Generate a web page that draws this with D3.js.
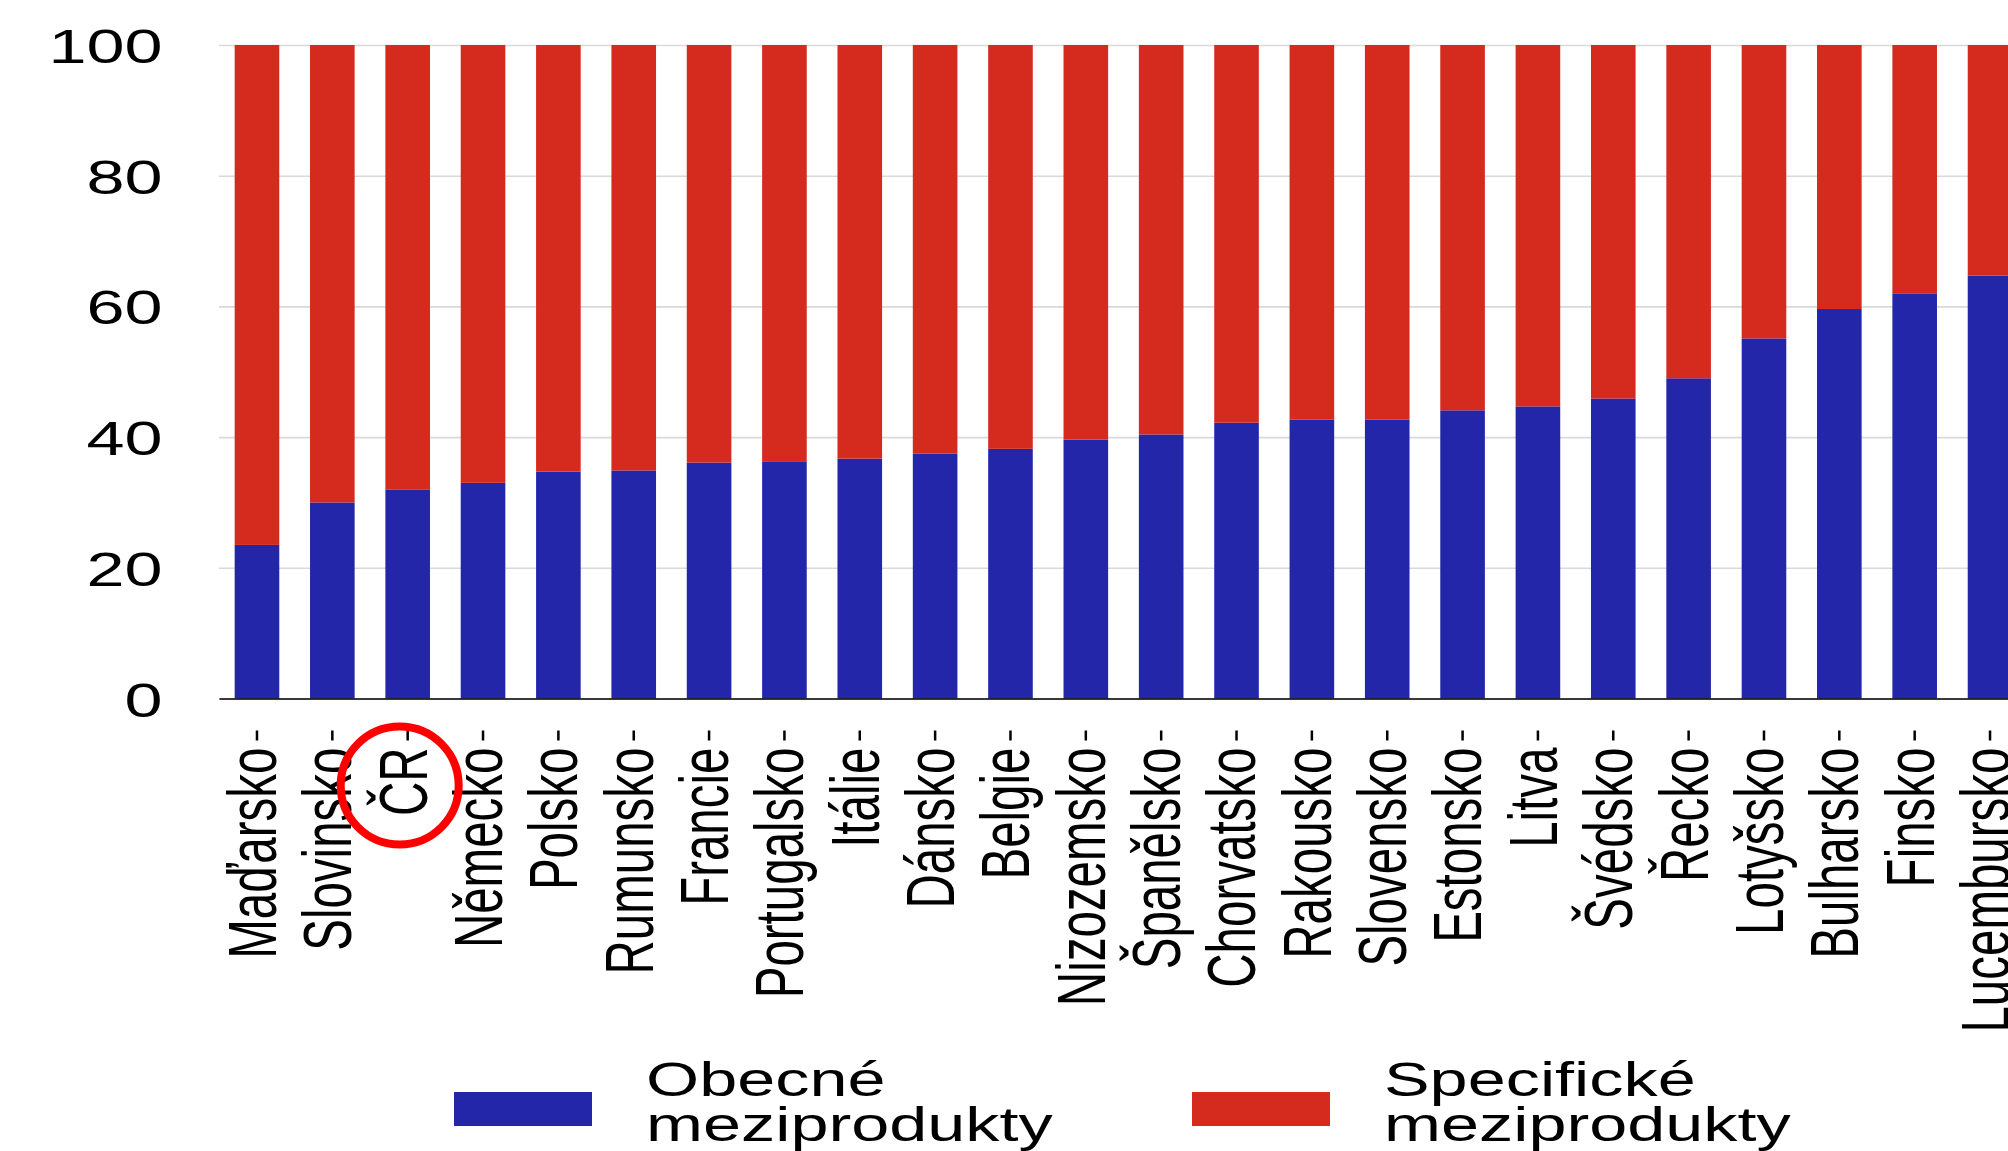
<!DOCTYPE html>
<html lang="cs">
<head>
<meta charset="utf-8">
<script src="https://cdn.jsdelivr.net/npm/d3@7"></script>
<style>
  html, body { margin: 0; padding: 0; background: #fff; overflow: hidden; }
  svg { display: block; font-family: "Liberation Sans", Arial, sans-serif; }
</style>
</head>
<body>
<svg id="chart" width="2008" height="1151"></svg>
<script>
// Countries ordered by the share of general intermediate products
const countries = ["Maďarsko", "Slovinsko", "ČR", "Německo", "Polsko", "Rumunsko", "Francie",
  "Portugalsko", "Itálie", "Dánsko", "Belgie", "Nizozemsko", "Španělsko", "Chorvatsko",
  "Rakousko", "Slovensko", "Estonsko", "Litva", "Švédsko", "Řecko", "Lotyšsko",
  "Bulharsko", "Finsko", "Lucembursko"];

// Share of general intermediate products (%)
const obecne = [23.5, 30.0, 32.0, 33.0, 34.7, 34.9, 36.1, 36.3, 36.7, 37.5, 38.2, 39.6,
  40.4, 42.2, 42.7, 42.7, 44.1, 44.7, 45.9, 49.0, 55.1, 59.6, 62.0, 64.7];

// Share of specific intermediate products (%)
const specificke = [76.5, 70.0, 68.0, 67.0, 65.3, 65.1, 63.9, 63.7, 63.3, 62.5, 61.8, 60.4,
  59.6, 57.8, 57.3, 57.3, 55.9, 55.3, 54.1, 51.0, 44.9, 40.4, 38.0, 35.3];

const seriesKeys = ["obecne", "specificke"];
const seriesNames = ["Obecné meziprodukty", "Specifické meziprodukty"];
const seriesColors = ["#2326a8", "#d52b1f"];

const yTicks = [0, 20, 40, 60, 80, 100];
const highlighted = "ČR";

// Layout
const FONT = 47.5;   // px
const SX = 1.44;     // horizontal stretch of all lettering
const plotLeft = 219, plotRight = 2028, plotTop = 45, plotBottom = 698.5;

const svg = d3.select("#chart");

const x = d3.scaleBand()
  .domain(countries)
  .range([plotLeft, plotRight])
  .paddingInner(0.408)
  .paddingOuter(0.208);

const y = d3.scaleLinear().domain([0, 100]).range([plotBottom, plotTop]);

// Horizontal gridlines
const grid = svg.append("g")
  .attr("transform", `translate(${plotLeft},0)`)
  .call(d3.axisLeft(y).tickValues(yTicks).tickSize(-(plotRight - plotLeft)).tickFormat(""));
grid.select(".domain").remove();
grid.selectAll(".tick line").attr("stroke", "#d9d9d9").attr("stroke-width", 1.6);

// Stacked bars
const rows = countries.map((c, i) => ({ country: c, obecne: obecne[i], specificke: specificke[i] }));
const stacked = d3.stack().keys(seriesKeys)(rows);

svg.append("g").selectAll("g")
  .data(stacked)
  .join("g")
  .attr("fill", (d, i) => seriesColors[i])
  .selectAll("rect")
  .data(d => d)
  .join("rect")
  .attr("x", d => x(d.data.country))
  .attr("width", x.bandwidth())
  .attr("y", d => y(d[1]))
  .attr("height", d => y(d[0]) - y(d[1]));

// Y axis labels
const yAxis = svg.append("g")
  .attr("transform", `translate(${plotLeft},0)`)
  .call(d3.axisLeft(y).tickValues(yTicks).tickSize(0).tickFormat(d3.format("d")));
yAxis.select(".domain").remove();
yAxis.selectAll(".tick text")
  .attr("x", 0).attr("dy", "0.37em")
  .attr("transform", `translate(${162.5 - plotLeft},0) scale(${SX},1)`)
  .attr("text-anchor", "end")
  .attr("font-family", "Liberation Sans, Arial, sans-serif")
  .attr("font-size", FONT)
  .attr("fill", "#000");

// X axis with rotated country names
const xAxis = svg.append("g")
  .attr("transform", `translate(0,${plotBottom})`)
  .call(d3.axisBottom(x).tickSize(42).tickSizeOuter(0));
xAxis.select(".domain").attr("stroke", "#000").attr("stroke-width", 1.6);
xAxis.selectAll(".tick line")
  .attr("y1", 32)
  .attr("stroke", "#000")
  .attr("stroke-width", 2.5);
xAxis.selectAll(".tick text")
  .attr("x", 0).attr("y", 0).attr("dy", "0.276em")
  .attr("transform", `translate(0,49) scale(${SX},1) rotate(-90)`)
  .attr("text-anchor", "end")
  .attr("font-family", "Liberation Sans, Arial, sans-serif")
  .attr("font-size", FONT)
  .attr("fill", "#000");

// Highlight ring around the Czech label
svg.append("circle")
  .attr("cx", x(highlighted) + x.bandwidth() / 2 - 8)
  .attr("cy", plotBottom + 87)
  .attr("r", 59)
  .attr("fill", "none")
  .attr("stroke", "#ff0000")
  .attr("stroke-width", 8);

// Legend
const legendX = [454, 1192];
const legend = svg.append("g").selectAll("g")
  .data(seriesNames)
  .join("g")
  .attr("transform", (d, i) => `translate(${legendX[i]},1092)`);
legend.append("rect")
  .attr("width", 138).attr("height", 34)
  .attr("fill", (d, i) => seriesColors[i]);
legend.append("text")
  .attr("transform", `translate(192,4) scale(${SX},1)`)
  .attr("font-size", FONT)
  .attr("fill", "#000")
  .selectAll("tspan")
  .data(d => d.split(" "))
  .join("tspan")
  .attr("x", 0)
  .attr("y", (d, i) => i * 45)
  .text(d => d);
</script>
</body>
</html>
